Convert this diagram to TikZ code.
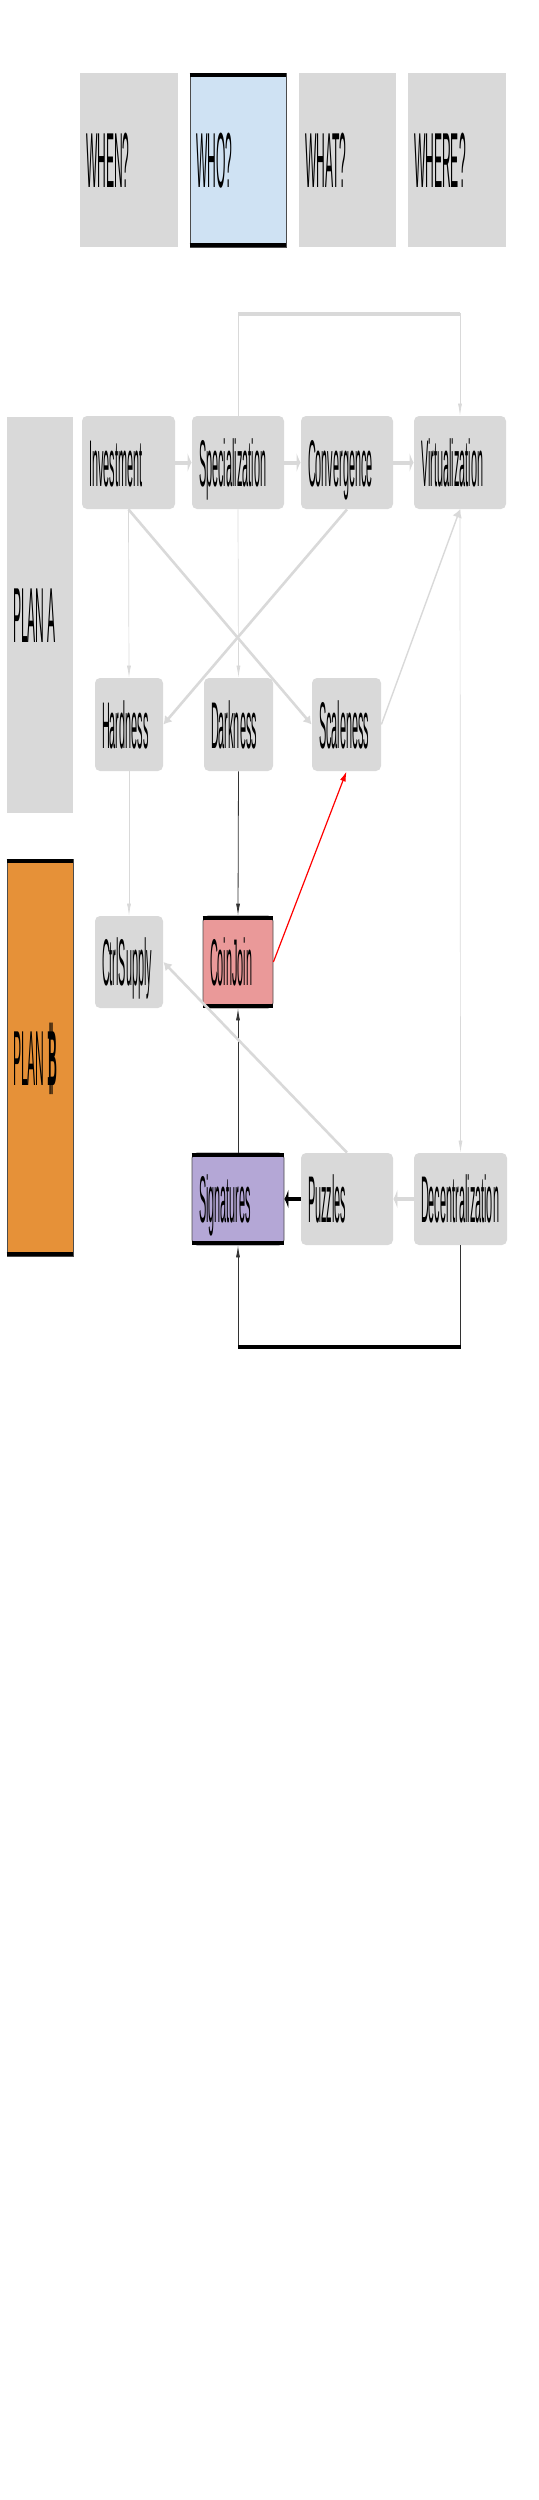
\documentclass[tikz,border=0pt]{standalone}
\usepackage{fontspec}
\setmainfont{Liberation Sans}
\usepackage{graphicx}
\usepackage{tikz}
\usetikzlibrary{fit}
\usetikzlibrary{arrows.meta}
\definecolor{lgrey}{HTML}{D9D9D9}
\definecolor{whoblue}{HTML}{CFE2F3}
\definecolor{planorange}{HTML}{E69138}
\definecolor{coinred}{HTML}{EA9999}
\definecolor{sigviolet}{HTML}{B4A7D6}
\newcommand{\hd}[1]{\scalebox{0.155}[1]{\fontsize{39pt}{39pt}\selectfont #1}}
\newcommand{\nd}[1]{\scalebox{0.165}[1]{\fontsize{33pt}{33pt}\selectfont #1}}
\newcommand{\btc}{{\bfseries\iffontchar\font"20BF \char"20BF\else\ooalign{B\cr\hspace{0.1em}\rule[-0.19em]{0.22em}{1.13em}\cr}\fi}}

\begin{document}
\begin{tikzpicture}[x=0.5pt,y=-0.5pt,
	hbox/.style={fill=lgrey, inner sep=0pt},
	rbox/.style={fill=lgrey, inner sep=0pt, rounded corners=2.5pt},
	hlab/.style={label={[anchor=west, inner xsep=3pt, inner ysep=0pt, text height=27.9pt, text depth=0pt]west:\hd{#1}}},
	nlab/.style={label={[anchor=west, inner xsep=3.5pt, inner ysep=0pt, text height=23.6pt, text depth=0pt]west:\nd{#1}}},
	bar/.style={draw=black, line width=2pt},
	gh/.style={draw=lgrey, line width=2pt, -{Latex[length=2pt,width=10pt]}},
	gv/.style={draw=lgrey, line width=0.35pt, -{Latex[length=6pt,width=2pt]}},
	gd/.style={draw=lgrey, line width=1.3pt, -{Latex[length=4pt,width=5pt]}},
	dh/.style={draw=black, line width=2pt, -{Latex[length=2pt,width=10pt]}},
	dv/.style={draw=black!80, line width=0.4pt, -{Latex[length=6pt,width=2pt]}},
	rd/.style={draw=red, line width=0.6pt, -{Latex[length=5pt,width=3pt]}}]
	\useasboundingbox (0,0) rectangle (538,2500);

	\node[hbox, fit={(80,73) (178,247)}, hlab=WHEN?] (when) {};	% questions
	\node[hbox, fit={(190,73) (286,247)}, hlab=WHO?, fill=whoblue, draw=black!70, line width=0.4pt] (who) {};
	\node[hbox, fit={(299,73) (396,247)}, hlab=WHAT?] (what) {};
	\node[hbox, fit={(408,73) (506,247)}, hlab=WHERE?] (where) {};

	\node[hbox, fit={(7,417) (73,813)}, hlab=PLAN A] (plana) {};	% plans
	\node[hbox, fit={(7,859) (73,1256)}, hlab=PLAN \btc, fill=planorange, draw=black!70, line width=0.4pt] (planb) {};

	\node[rbox, fit={(82,416) (175,509)}, nlab=Investment] (inv) {};	% plan A
	\node[rbox, fit={(192,416) (284,509)}, nlab=Specialization] (spec) {};
	\node[rbox, fit={(301,416) (393,509)}, nlab=Convergence] (conv) {};
	\node[rbox, fit={(414,416) (506,509)}, nlab=Virtualization] (virt) {};
	\node[rbox, fit={(95,678) (163,771)}, nlab=Hardness] (hard) {};
	\node[rbox, fit={(204,678) (273,771)}, nlab=Darkness] (dark) {};
	\node[rbox, fit={(312,678) (381,771)}, nlab=Scaleness] (scale) {};

	\node[rbox, fit={(95,916) (163,1008)}, nlab=CtrlSupply] (ctrl) {};	% plan B
	\node[rbox, fit={(203,916) (273,1008)}, nlab=CoinJoin, fill=coinred, draw=black!70, line width=0.4pt] (coin) {};
	\node[rbox, fit={(192,1153) (284,1245)}, nlab=Signatures, fill=sigviolet, draw=black!70, line width=0.4pt] (sig) {};
	\node[rbox, fit={(301,1153) (393,1245)}, nlab=Puzzles] (puz) {};
	\node[rbox, fit={(414,1153) (507,1245)}, nlab=Decentralization] (dec) {};

	\foreach \n in {who,planb,coin,sig} {	% heavy edges
		\draw[bar] ([yshift=-1pt]\n.north west) -- ([yshift=-1pt]\n.north east);
		\draw[bar] ([yshift=1pt]\n.south west) -- ([yshift=1pt]\n.south east);
	}

	\draw[gh] (inv) -- (spec);
	\draw[gh] (spec) -- (conv);
	\draw[gh] (conv) -- (virt);
	\draw[gv] (spec.north) -- ++(0,-102) coordinate (tl) -| (virt.north);
	\draw[draw=lgrey, line width=2pt] (tl) -- (tl -| virt.north);
	\draw[gv] (inv.south) -- (hard.north);
	\draw[gd] (inv.south) -- (scale.west);
	\draw[gd] (conv.south) -- (hard.east);
	\draw[gv] (spec.south) -- (dark.north);
	\draw[gd, line width=0.7pt] (scale.east) -- (virt.south);
	\draw[gv] (virt.south) -- (dec.north);
	\draw[gv] (hard.south) -- (ctrl.north);
	\draw[dv] (dark.south) -- (coin.north);
	\draw[rd] (coin.east) -- (scale.south);
	\draw[dv] (sig.north) -- (coin.south);
	\draw[gd] (puz.north) -- (ctrl.east);
	\draw[dh] (puz) -- (sig);
	\draw[gh] (dec) -- (puz);
	\draw[dv] (dec.south) -- ++(0,102) coordinate (bl) -| (sig.south);
	\draw[draw=black, line width=2pt] (bl) -- (bl -| sig.south);
\end{tikzpicture}
\end{document}
